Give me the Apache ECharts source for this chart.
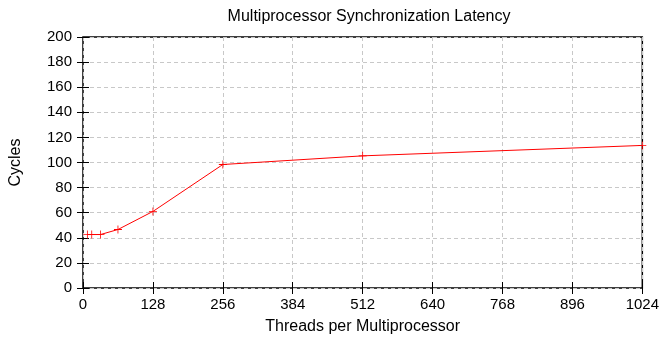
<!DOCTYPE html>
<html>
<head>
<meta charset="utf-8">
<script src="https://cdn.jsdelivr.net/npm/echarts@6/dist/echarts.min.js"></script>
<style>
  html, body { margin: 0; padding: 0; background: #fff; }
  #chart { width: 662px; height: 343px; }
</style>
</head>
<body>
<div id="chart"></div>
<script>
// threads per multiprocessor vs. sync latency (cycles)
var threads = [8, 16, 32, 64, 128, 256, 512, 1024];
var cycles = [42.6, 42.6, 42.6, 46.6, 61, 98.4, 105.3, 113.6];
var xTicks = [0, 128, 256, 384, 512, 640, 768, 896, 1024];

var plus = 'path://M0,4.5h10v1h-10z M4.5,0h1v10h-1z';
var font = 'Liberation Sans, Arial, sans-serif';
var gridLine = { show: true, lineStyle: { color: '#c8c8c8', type: [4, 3], width: 1 } };

var myChart = echarts.init(document.getElementById('chart'));
var option = {
  animation: false,
  title: {
    text: 'Multiprocessor Synchronization Latency',
    left: 364, top: 4, textAlign: 'center',
    textStyle: { fontFamily: font, fontSize: 16, fontWeight: 'normal', color: '#000' }
  },
  grid: { left: 82, right: 18, top: 37, bottom: 55, show: true, borderColor: '#000', borderWidth: 1.5 },
  xAxis: [{
    type: 'value', min: 0, max: 1024, interval: 128,
    name: 'Threads per Multiprocessor', nameLocation: 'middle', nameGap: 31,
    nameTextStyle: { fontFamily: font, fontSize: 16, color: '#000' },
    axisLine: { show: false },
    axisTick: { show: true, inside: true, length: 6, lineStyle: { color: '#000' } },
    axisLabel: { fontFamily: font, fontSize: 15, color: '#000', margin: 9,
      formatter: function (v) { return xTicks.indexOf(v) >= 0 ? String(v) : ''; } },
    splitLine: gridLine
  }, {
    type: 'value', min: 0, max: 1024, interval: 128, position: 'top',
    axisLine: { show: false },
    axisTick: { show: true, inside: true, length: 6, lineStyle: { color: '#000' } },
    axisLabel: { show: false }, splitLine: { show: false }
  }],
  yAxis: [{
    type: 'value', min: 0, max: 200, interval: 20,
    name: 'Cycles', nameLocation: 'middle', nameGap: 59,
    nameTextStyle: { fontFamily: font, fontSize: 16, color: '#000' },
    axisLine: { show: false },
    axisTick: { show: true, inside: true, length: 6, lineStyle: { color: '#000' } },
    axisLabel: { fontFamily: font, fontSize: 15, color: '#000', margin: 11 },
    splitLine: gridLine
  }, {
    type: 'value', min: 0, max: 200, interval: 20, position: 'right',
    axisLine: { show: false },
    axisTick: { show: true, inside: true, length: 6, lineStyle: { color: '#000' } },
    axisLabel: { show: false }, splitLine: { show: false }
  }],
  series: [{
    type: 'line',
    data: threads.map(function (t, i) { return [t, cycles[i]]; }),
    symbol: plus, symbolSize: 8, showSymbol: true,
    lineStyle: { color: '#ff0000', width: 1 },
    itemStyle: { color: '#ff0000' },
    clip: false
  }]
};
myChart.setOption(option);
</script>
</body>
</html>
